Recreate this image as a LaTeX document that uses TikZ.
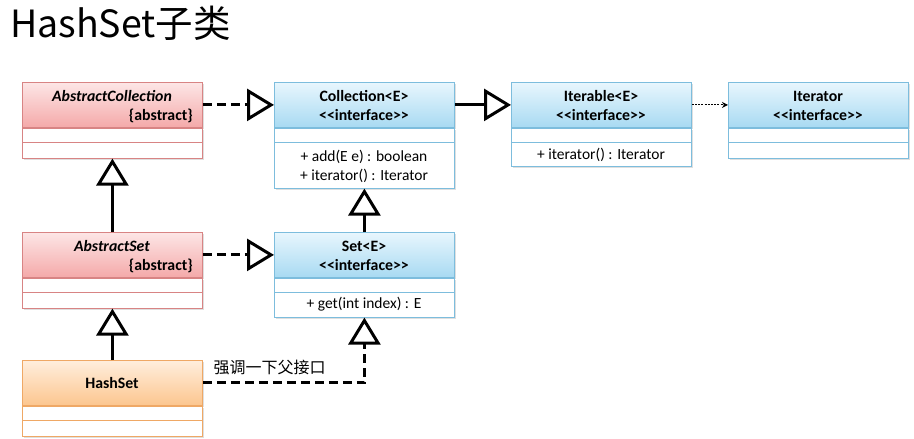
\documentclass[tikz,border=0pt]{standalone}
\usepackage{fontspec}
\setmainfont{Carlito}
\newfontfamily\cjk{Noto Sans CJK SC}
\usetikzlibrary{arrows.meta,shadows}
\definecolor{redtop}{HTML}{FDE6E6}
\definecolor{redbot}{HTML}{F4A9A9}
\definecolor{redline}{HTML}{D88484}
\definecolor{bluetop}{HTML}{E8F6FD}
\definecolor{bluebot}{HTML}{A8DAF2}
\definecolor{blueline}{HTML}{7DBDDD}
\definecolor{orgtop}{HTML}{FFEEDD}
\definecolor{orgbot}{HTML}{FCC68F}
\definecolor{orgline}{HTML}{EFA865}
\newcommand\stereo{<\kern0pt<interface>\kern0pt>}
\tikzset{
  umlhdr/.style={draw=#1line, top color=#1top, bottom color=#1bot, minimum width=180pt,
    minimum height=45pt, inner sep=0pt, line width=0.8pt,
    drop shadow={shadow xshift=1.5pt, shadow yshift=-1.5pt, opacity=0.25}},
  umlbody/.style={draw=#1line, fill=white, minimum width=180pt, inner sep=0pt, line width=0.8pt,
    drop shadow={shadow xshift=1.5pt, shadow yshift=-1.5pt, opacity=0.25}},
  txt/.style={font=\fontsize{15.5}{18}\selectfont, inner sep=0pt, anchor=base},
  btxt/.style={txt, font=\fontsize{15.8}{18}\selectfont\bfseries},
  itxt/.style={txt, font=\fontsize{15.8}{18}\selectfont\bfseries\itshape},
  gen/.style={line width=3pt, -{Triangle[open, length=27pt, width=32pt]}},
  realize/.style={gen, dash pattern=on 9pt off 5pt},
  dep/.style={line width=1pt, dash pattern=on 2pt off 1.2pt, -{Stealth[length=6pt, width=6pt]}},
}
\newcommand\umlcls[6]{%
  \node[umlhdr=#2, anchor=north west] (#1) at (#3,#4) {};
  \node[umlbody=#2, anchor=north, minimum height=#5pt] (#1b) at (#1.south) {};
  \draw[#2line, line width=0.8pt] ([yshift=-#6pt]#1b.north west) -- ([yshift=-#6pt]#1b.north east);
}
\begin{document}
\begin{tikzpicture}[x=1pt, y=-1pt]
\useasboundingbox (0,0) rectangle (914,439);
\node[anchor=base west, inner sep=0pt, font=\cjk\fontsize{37.5}{40}\selectfont] (title) at (10,37) {HashSet子类};

\umlcls{ac}{red}{22}{82}{30}{15}
\umlcls{coll}{blue}{274}{82}{60}{15}
\umlcls{itb}{blue}{511}{82}{38}{15}
\umlcls{itr}{blue}{728}{82}{30}{15}
\umlcls{as}{red}{22}{232}{30}{15}
\umlcls{set}{blue}{274}{232}{39}{15}
\umlcls{hs}{org}{22}{360}{30}{15}

\node[itxt] (acn) at (112,101.5) {AbstractCollection};
\node[btxt, anchor=base east] (acs) at (193,120) {\{abstract\}};
\node[btxt] (colln) at (364,101.5) {Collection<E>};
\node[btxt] (colls) at (364,120) {\stereo};
\node[txt] (collm1) at (364,161) {+ add(E e) : boolean};
\node[txt] (collm2) at (364,180) {+ iterator() : Iterator};
\node[btxt] (itbn) at (601,101.5) {Iterable<E>};
\node[btxt] (itbs) at (601,120) {\stereo};
\node[txt] (itbm) at (601,159.5) {+ iterator() : Iterator};
\node[btxt] (itrn) at (818,101.5) {Iterator};
\node[btxt] (itrs) at (818,120) {\stereo};
\node[itxt] (asn) at (112,251.5) {AbstractSet};
\node[btxt, anchor=base east] (ass) at (193,270) {\{abstract\}};
\node[btxt] (setn) at (364,251.5) {Set<E>};
\node[btxt] (sets) at (364,270) {\stereo};
\node[txt] (setm) at (364,308.5) {+ get(int index) : E};
\node[btxt] (hsn) at (112,388) {HashSet};

\draw[realize] (ac.east) -- (coll.west);
\draw[gen] (coll.east) -- (itb.west);
\draw[dep] (itb.east) -- (itr.west);
\draw[gen] (as.north) -- (acb.south);
\draw[realize] (as.east) -- (set.west);
\draw[gen] (set.north) -- (collb.south);
\draw[gen] (hs.north) -- (asb.south);
\draw[realize] (hs.east) -| (setb.south);
\node[anchor=center, inner sep=0pt, font=\cjk\fontsize{16}{18}\selectfont] (lbl) at (269.5,367) {强调一下父接口};
\end{tikzpicture}
\end{document}
